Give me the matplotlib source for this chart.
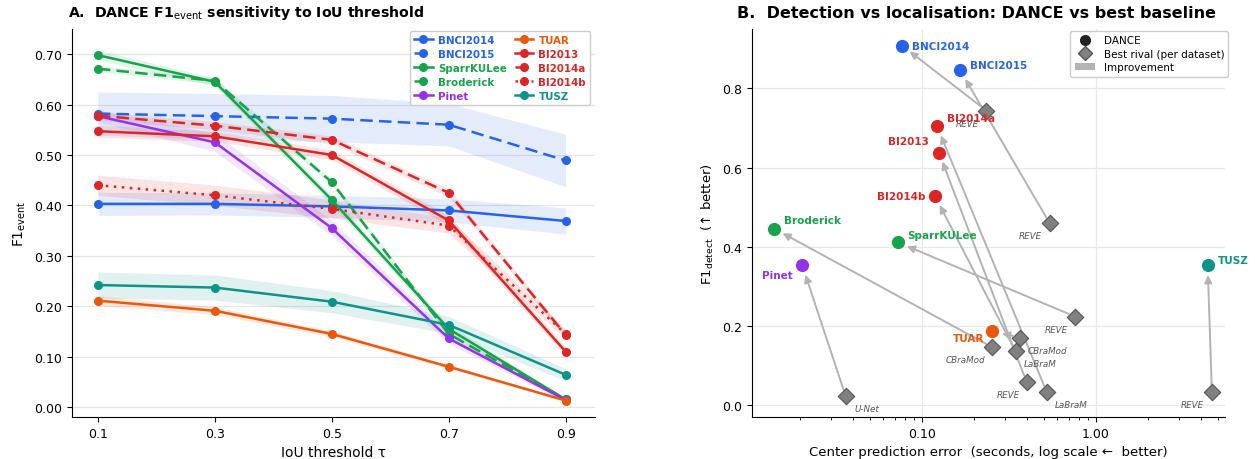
import numpy as np
import matplotlib
matplotlib.use("Agg")
import matplotlib.pyplot as plt
from matplotlib.lines import Line2D
from matplotlib.patches import Patch
from matplotlib.ticker import FixedLocator, FormatStrFormatter, NullFormatter, LogLocator

# ---- panel A data: F1_event vs IoU threshold ----
iou = [0.1, 0.3, 0.5, 0.7, 0.9]
datasets = ["BNCI2014", "BNCI2015", "SparrKULee", "Broderick", "Pinet",
            "TUAR", "BI2013", "BI2014a", "BI2014b", "TUSZ"]
f1_mean = {
    "BNCI2014":   [0.403, 0.403, 0.398, 0.390, 0.369],
    "BNCI2015":   [0.582, 0.577, 0.572, 0.560, 0.489],
    "SparrKULee": [0.698, 0.645, 0.411, 0.155, 0.015],
    "Broderick":  [0.671, 0.647, 0.446, 0.145, 0.015],
    "Pinet":      [0.577, 0.525, 0.355, 0.136, 0.014],
    "TUAR":       [0.211, 0.191, 0.145, 0.080, 0.013],
    "BI2013":     [0.547, 0.537, 0.500, 0.370, 0.110],
    "BI2014a":    [0.578, 0.558, 0.530, 0.425, 0.143],
    "BI2014b":    [0.440, 0.420, 0.393, 0.360, 0.145],
    "TUSZ":       [0.242, 0.237, 0.209, 0.163, 0.064],
}
f1_std = {
    "BNCI2014":   [0.023, 0.022, 0.022, 0.023, 0.026],
    "BNCI2015":   [0.043, 0.045, 0.046, 0.042, 0.052],
    "SparrKULee": [0.010, 0.008, 0.010, 0.008, 0.004],
    "Broderick":  [0.006, 0.006, 0.006, 0.005, 0.003],
    "Pinet":      [0.012, 0.018, 0.015, 0.010, 0.004],
    "TUAR":       [0.010, 0.008, 0.006, 0.004, 0.003],
    "BI2013":     [0.012, 0.010, 0.010, 0.010, 0.010],
    "BI2014a":    [0.008, 0.008, 0.008, 0.008, 0.006],
    "BI2014b":    [0.020, 0.020, 0.018, 0.015, 0.010],
    "TUSZ":       [0.026, 0.025, 0.022, 0.017, 0.012],
}

# ---- panel B data: DANCE vs best rival ----
dance_err = [0.0766, 0.166, 0.0727, 0.0141, 0.0205, 0.254, 0.125, 0.122, 0.119, 4.38]
dance_f1 = [0.908, 0.845, 0.411, 0.446, 0.353, 0.187, 0.638, 0.704, 0.527, 0.353]
rival_name = ["REVE", "REVE", "REVE", "CBraMod", "U-Net",
              "CBraMod", "REVE", "LaBraM", "LaBraM", "REVE"]
rival_err = [0.234, 0.542, 0.757, 0.254, 0.0364, 0.364, 0.399, 0.521, 0.345, 4.63]
rival_f1 = [0.744, 0.459, 0.224, 0.146, 0.023, 0.171, 0.058, 0.033, 0.136, 0.033]

colors = {
    "BNCI2014": "#2563eb", "BNCI2015": "#2563eb",
    "SparrKULee": "#16a34a", "Broderick": "#16a34a",
    "Pinet": "#9333ea", "TUAR": "#ea580c",
    "BI2013": "#dc2626", "BI2014a": "#dc2626", "BI2014b": "#dc2626",
    "TUSZ": "#0d9488",
}
styles = {
    "BNCI2014": "-", "BNCI2015": (0, (5, 2.5)),
    "SparrKULee": "-", "Broderick": (0, (5, 2.5)),
    "Pinet": "-", "TUAR": "-",
    "BI2013": "-", "BI2014a": (0, (5, 2.5)), "BI2014b": (0, (1, 2.2)),
    "TUSZ": "-",
}
legend_order = ["BNCI2014", "BNCI2015", "SparrKULee", "Broderick", "Pinet",
                "TUAR", "BI2013", "BI2014a", "BI2014b", "TUSZ"]

# label placement (offset in points, horizontal alignment)
dance_lab = {
    "BNCI2014": (7, 0, "left"), "BNCI2015": (7, 4, "left"),
    "SparrKULee": (7, 5, "left"), "Broderick": (7, 6, "left"),
    "Pinet": (-7, -7, "right"), "TUAR": (-6, -5, "right"),
    "BI2013": (-7, 8, "right"), "BI2014a": (7, 6, "left"),
    "BI2014b": (-7, 0, "right"), "TUSZ": (7, 4, "left"),
}
rival_lab = {
    "BNCI2014": (-5, -9, "right"), "BNCI2015": (-6, -9, "right"),
    "SparrKULee": (-5, -9, "right"), "Broderick": (-5, -9, "right"),
    "Pinet": (6, -9, "left"), "TUAR": (6, -9, "left"),
    "BI2013": (-5, -9, "right"), "BI2014a": (6, -9, "left"),
    "BI2014b": (6, -9, "left"), "TUSZ": (-6, -9, "right"),
}

fig = plt.figure(figsize=(12.55, 4.6), dpi=100)
axA = fig.add_axes([0.057, 0.091, 0.417, 0.844])
axB = fig.add_axes([0.599, 0.091, 0.377, 0.844])

# ---------------- panel A ----------------
for name in datasets:
    m = np.array(f1_mean[name])
    s = np.array(f1_std[name])
    c = colors[name]
    axA.fill_between(iou, m - s, m + s, color=c, alpha=0.12, lw=0)
    axA.plot(iou, m, color=c, ls=styles[name], lw=1.8, marker="o", ms=5.5, label=name)

axA.set_xlim(0.055, 0.95)
axA.set_ylim(-0.02, 0.75)
axA.set_xticks(iou)
axA.set_xticklabels([str(v) for v in iou])
axA.set_yticks(np.arange(0, 0.71, 0.1))
axA.yaxis.set_major_formatter(FormatStrFormatter("%.2f"))
axA.grid(axis="y", color="#e5e5e5", lw=0.9)
axA.set_axisbelow(True)
axA.spines["top"].set_visible(False)
axA.spines["right"].set_visible(False)
axA.tick_params(labelsize=9)
axA.set_xlabel("IoU threshold τ", fontsize=10)
axA.set_ylabel("F1$_{\\mathrm{event}}$", fontsize=10)

handles, labels = axA.get_legend_handles_labels()
hmap = dict(zip(labels, handles))
leg = axA.legend([hmap[n] for n in legend_order], legend_order, ncol=2, loc="upper right",
                 fontsize=7.4, handlelength=1.8, handletextpad=0.5, columnspacing=0.8,
                 labelspacing=0.38, borderpad=0.4, framealpha=1.0,
                 bbox_to_anchor=(0.995, 1.0), borderaxespad=0.2)
for t, n in zip(leg.get_texts(), legend_order):
    t.set_color(colors[n])
    t.set_fontweight("bold")

# ---------------- panel B ----------------
axB.set_xscale("log")
for i, name in enumerate(datasets):
    axB.annotate("", xy=(dance_err[i], dance_f1[i]), xytext=(rival_err[i], rival_f1[i]),
                 arrowprops=dict(arrowstyle="-|>", color="#b3b3b3", lw=1.4,
                                 shrinkA=5, shrinkB=7, mutation_scale=11), zorder=1)
axB.scatter(rival_err, rival_f1, marker="D", s=70, color="#808080",
            edgecolor="#555555", lw=0.8, zorder=3)
for i, name in enumerate(datasets):
    axB.scatter(dance_err[i], dance_f1[i], s=72, color=colors[name], zorder=4)
    dx, dy, ha = dance_lab[name]
    axB.annotate(name, (dance_err[i], dance_f1[i]), xytext=(dx, dy), textcoords="offset points",
                 ha=ha, va="center", fontsize=7.5, fontweight="bold", color=colors[name], zorder=5)
    dx, dy, ha = rival_lab[name]
    axB.annotate(rival_name[i], (rival_err[i], rival_f1[i]), xytext=(dx, dy),
                 textcoords="offset points", ha=ha, va="center", fontsize=6.3,
                 style="italic", color="#555555", zorder=5)

axB.set_xlim(0.0105, 5.5)
axB.set_ylim(-0.03, 0.95)
axB.xaxis.set_major_locator(FixedLocator([0.1, 1.0]))
axB.xaxis.set_major_formatter(FormatStrFormatter("%.2f"))
axB.xaxis.set_minor_locator(LogLocator(base=10, subs=np.arange(2, 10)))
axB.xaxis.set_minor_formatter(NullFormatter())
axB.set_yticks(np.arange(0, 0.81, 0.2))
axB.yaxis.set_major_formatter(FormatStrFormatter("%.1f"))
axB.grid(which="major", color="#e8e8e8", lw=0.9)
axB.set_axisbelow(True)
axB.spines["top"].set_visible(False)
axB.spines["right"].set_visible(False)
axB.tick_params(labelsize=9)
axB.set_xlabel("Center prediction error  (seconds, log scale \u2190  better)", fontsize=9.5)
axB.set_ylabel("F1$_{\\mathrm{detect}}$  (\u2191 better)", fontsize=9.5)

legB = [
    Line2D([], [], marker="o", color="none", markerfacecolor="#222222",
           markeredgecolor="#222222", ms=7, label="DANCE"),
    Line2D([], [], marker="D", color="none", markerfacecolor="#808080",
           markeredgecolor="#555555", ms=7, label="Best rival (per dataset)"),
    Patch(facecolor="#b3b3b3", edgecolor="none", label="Improvement"),
]
axB.legend(handles=legB, loc="upper right", fontsize=7.5, framealpha=1.0,
           handlelength=2.0, labelspacing=0.35, borderpad=0.4,
           bbox_to_anchor=(1.012, 1.0), borderaxespad=0.2)

fig.text(68 / 1255, 1 - 13 / 460, "A.  DANCE F1$_{\\mathrm{event}}$ sensitivity to IoU threshold",
         fontsize=10.2, fontweight="bold", va="center", ha="left")
fig.text(737 / 1255, 1 - 13 / 460, "B.  Detection vs localisation: DANCE vs best baseline",
         fontsize=11.5, fontweight="bold", va="center", ha="left")

fig.savefig("out.png", dpi=100)
